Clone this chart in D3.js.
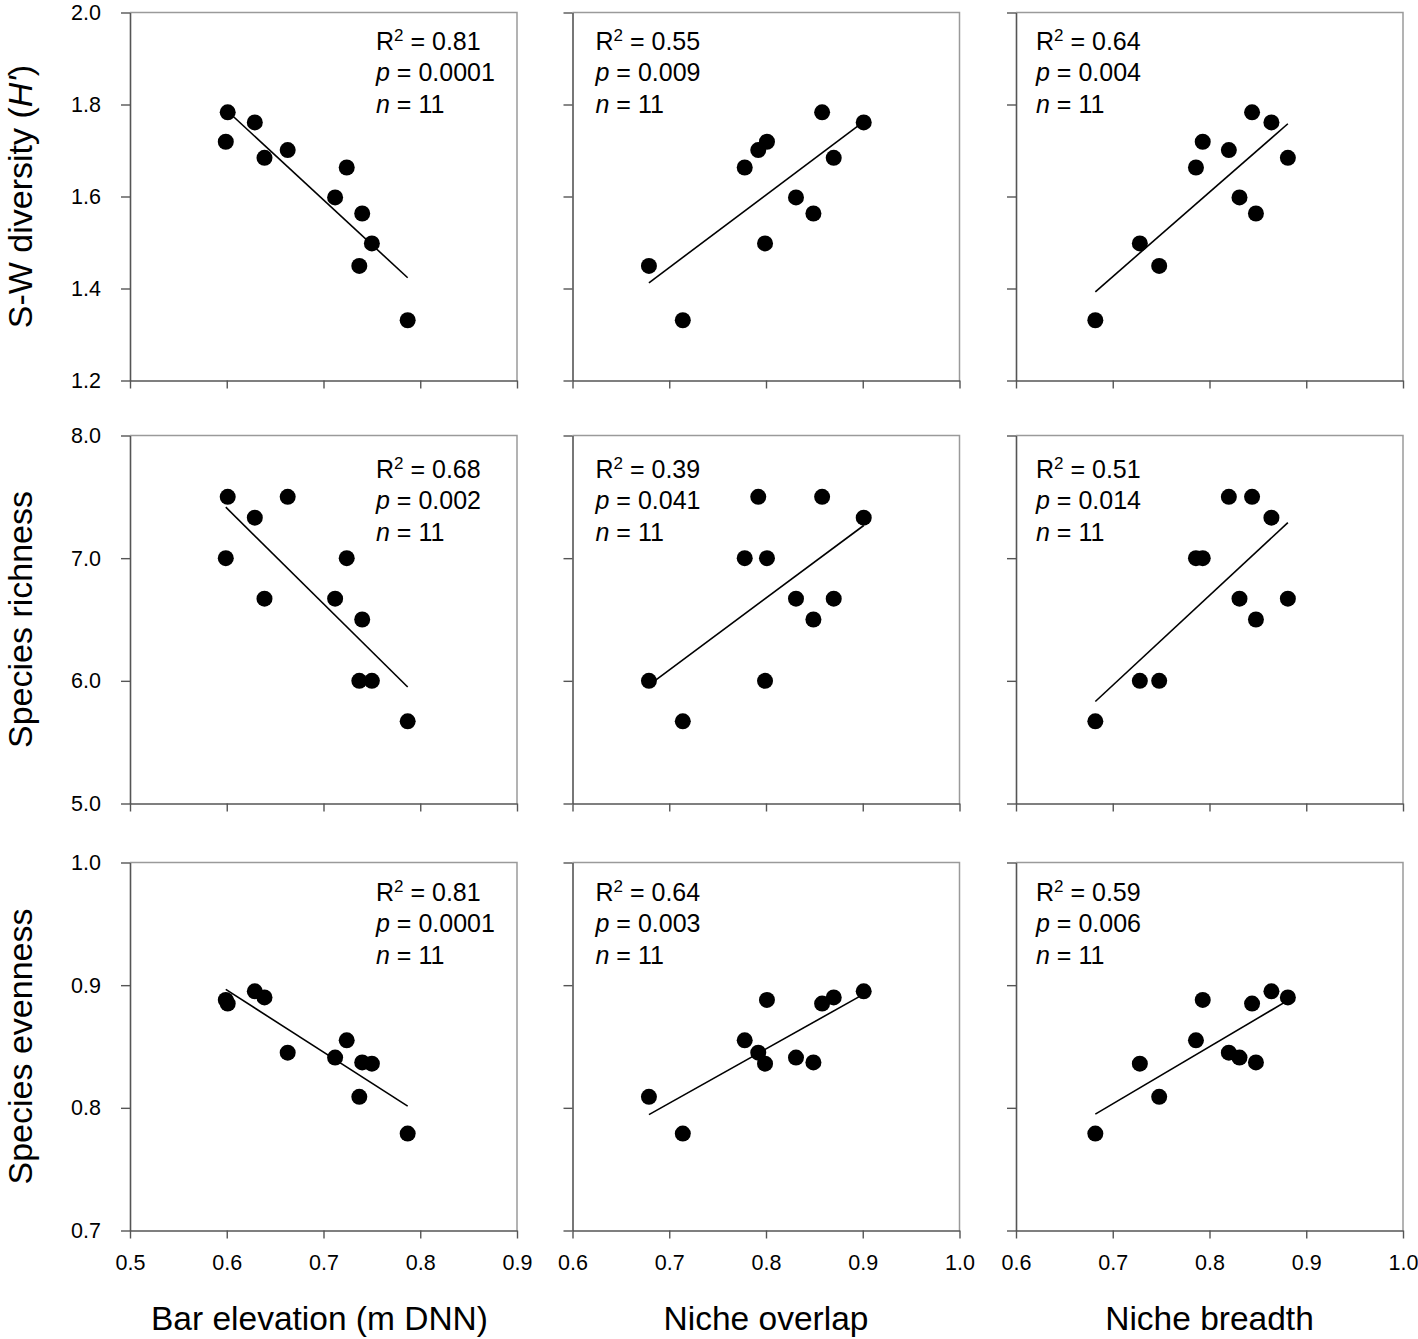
<!DOCTYPE html>
<html><head><meta charset="utf-8">
<script src="https://cdn.jsdelivr.net/npm/d3@7"></script>
<style>body{margin:0;background:#fff} text{font-family:"Liberation Sans",Arial,sans-serif;fill:#000}</style>
</head><body><svg id="c" width="1418" height="1339"></svg>
<script>
// Per-site values (11 sites)
const elevation = [0.601,0.599,0.629,0.639,0.663,0.724,0.712,0.740,0.750,0.737,0.787];
const overlap   = [0.858,0.801,0.901,0.870,0.792,0.778,0.831,0.849,0.799,0.679,0.714];
const breadth   = [0.844,0.793,0.864,0.881,0.820,0.786,0.831,0.848,0.728,0.748,0.682];
const diversity = [1.783,1.719,1.761,1.684,1.701,1.663,1.598,1.563,1.498,1.449,1.331];
const richness  = [7.5,7.0,7.33,6.67,7.5,7.0,6.67,6.5,6.0,6.0,5.67];
const evenness  = [0.885,0.888,0.895,0.890,0.845,0.855,0.841,0.837,0.836,0.809,0.779];

const xTitles = ["Bar elevation (m DNN)","Niche overlap","Niche breadth"];
const xDomains = [[0.5,0.9],[0.6,1.0],[0.6,1.0]];
const xTicks = [[0.5,0.6,0.7,0.8,0.9],[0.6,0.7,0.8,0.9,1.0],[0.6,0.7,0.8,0.9,1.0]];
const yDomains = [[1.2,2.0],[5.0,8.0],[0.7,1.0]];
const yTicks = [[1.2,1.4,1.6,1.8,2.0],[5,6,7,8],[0.7,0.8,0.9,1.0]];
const r2Values = [[0.81,0.55,0.64],[0.68,0.39,0.51],[0.81,0.64,0.59]];
const pValues = [["0.0001","0.009","0.004"],["0.002","0.041","0.014"],["0.0001","0.003","0.006"]];
const nValue = 11;

const xSeries = [elevation, overlap, breadth];
const ySeries = [diversity, richness, evenness];

// layout
const colLeft = [130, 572.5, 1016];
const rowTop = [12.5, 435.5, 862.5];
const W = 387, H = 368;
const statX = [246, 23, 20];
const statY = [37, 42, 38];

const svg = d3.select("#c");
const fmt = d3.format(".1f");

function fit(xs, ys){
  const mx = d3.mean(xs), my = d3.mean(ys);
  let sxy=0, sxx=0;
  xs.forEach((x,i)=>{sxy+=(x-mx)*(ys[i]-my); sxx+=(x-mx)*(x-mx);});
  const b = sxy/sxx, a = my - b*mx;
  return x => a + b*x;
}

for(let r=0;r<3;r++){
  for(let c=0;c<3;c++){
    const g = svg.append("g").attr("transform",`translate(${colLeft[c]},${rowTop[r]})`);
    const x = d3.scaleLinear().domain(xDomains[c]).range([0,W]);
    const y = d3.scaleLinear().domain(yDomains[r]).range([H,0]);

    // frame top/right
    g.append("path").attr("d",`M0,0H${W}V${H}`).attr("fill","none")
      .attr("stroke","#9a9a9a").attr("stroke-width",1.5);

    const xa = d3.axisBottom(x).tickValues(xTicks[c]).tickSize(8).tickSizeOuter(0).tickPadding(16)
      .tickFormat(r===2 ? fmt : "");
    const ya = d3.axisLeft(y).tickValues(yTicks[r]).tickSize(9).tickSizeOuter(0).tickPadding(20)
      .tickFormat(c===0 ? fmt : "");
    const gx = g.append("g").attr("transform",`translate(0,${H})`).call(xa);
    const gy = g.append("g").call(ya);
    [gx,gy].forEach(a=>{
      a.attr("font-size",null).attr("font-family",null);
      a.select(".domain").attr("stroke","#555").attr("stroke-width",1.6);
      a.selectAll(".tick line").attr("stroke","#555").attr("stroke-width",1.4);
      a.selectAll(".tick text").style("font-size","21.5px").attr("fill","#000")
        .style("font-family","'Liberation Sans',Arial,sans-serif");
    });

    // regression line
    const xs = xSeries[c], ys = ySeries[r];
    const f = fit(xs, ys);
    const x0 = d3.min(xs), x1 = d3.max(xs);
    g.append("line").attr("x1",x(x0)).attr("y1",y(f(x0))).attr("x2",x(x1)).attr("y2",y(f(x1)))
      .attr("stroke","#000").attr("stroke-width",1.6);

    // points
    g.selectAll("circle.pt").data(xs.map((v,i)=>[v,ys[i]])).enter().append("circle")
      .attr("class","pt").attr("cx",d=>x(d[0])).attr("cy",d=>y(d[1])).attr("r",8).attr("fill","#000");

    // stats text
    const st = g.append("g").attr("transform",`translate(${statX[c]},${statY[r]})`);
    const t1 = st.append("text").style("font-size","25px");
    t1.append("tspan").text("R");
    t1.append("tspan").style("font-size","17px").attr("dy",-9).text("2");
    t1.append("tspan").attr("dy",9).text(" = " + r2Values[r][c].toFixed(2));
    const t2 = st.append("text").style("font-size","25px").attr("y",31.5);
    t2.append("tspan").attr("font-style","italic").text("p");
    t2.append("tspan").text(" = " + pValues[r][c]);
    const t3 = st.append("text").style("font-size","25px").attr("y",63);
    t3.append("tspan").attr("font-style","italic").text("n");
    t3.append("tspan").text(" = " + nValue);
  }
}

// x titles
xTitles.forEach((t,c)=>{
  svg.append("text").attr("x",colLeft[c]+W/2 - (c===0?4:0)).attr("y",1330).attr("text-anchor","middle")
    .style("font-size","33.5px").text(t);
});

// y titles
const yt = [
  [{t:"S-W diversity ("},{t:"H'",i:true},{t:")"}],
  [{t:"Species richness"}],
  [{t:"Species evenness"}]
];
yt.forEach((parts,r)=>{
  const cy = rowTop[r]+H/2;
  const tx = svg.append("text").attr("transform",`translate(32,${cy}) rotate(-90)`)
    .attr("text-anchor","middle").style("font-size","34px");
  parts.forEach(p=>{
    const s = tx.append("tspan").text(p.t);
    if(p.i) s.attr("font-style","italic");
  });
});
</script></body></html>
